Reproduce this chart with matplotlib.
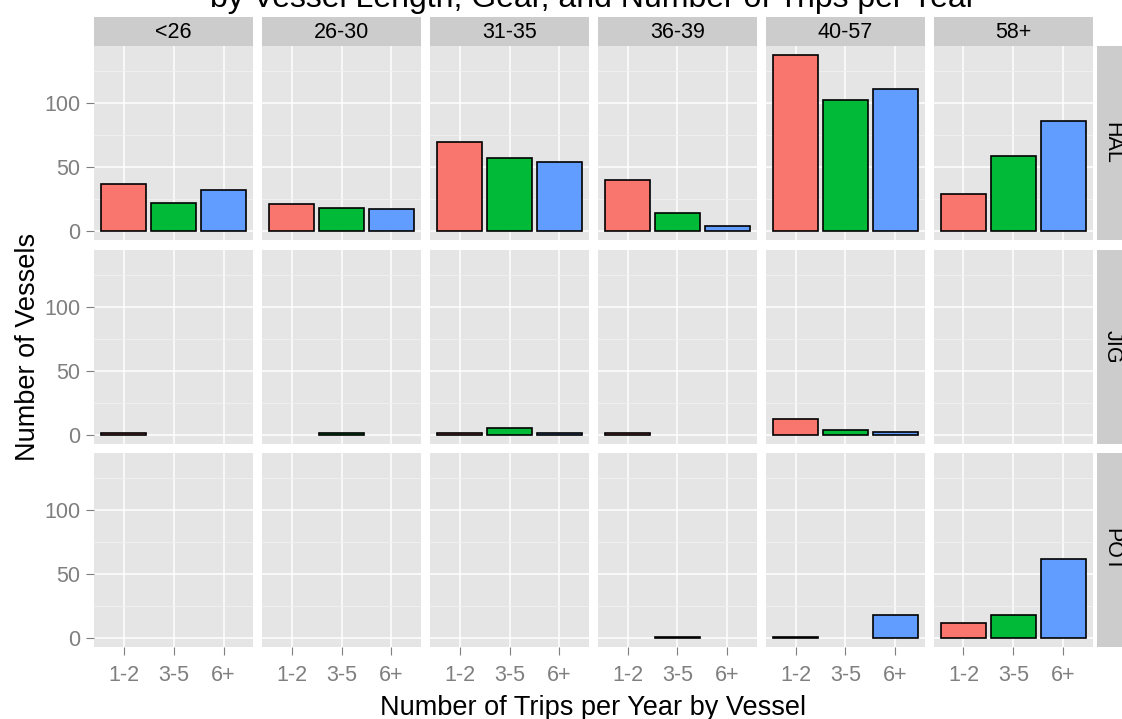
import numpy as np
import matplotlib
matplotlib.use("Agg")
import matplotlib.pyplot as plt

nan = np.nan
lengths = ['<26', '26-30', '31-35', '36-39', '40-57', '58+']
gears = ['HAL', 'JIG', 'POT']
trips = ['1-2', '3-5', '6+']

hal_12 = [37, 21, 70, 40, 138, 29]
hal_35 = [22, 18, 57, 14, 103, 59]
hal_6p = [32, 17, 54, 4, 111, 86]
jig_12 = [1, nan, 1, 1, 12, nan]
jig_35 = [nan, 1, 5, nan, 4, nan]
jig_6p = [nan, nan, 1, nan, 2, nan]
pot_12 = [nan, nan, nan, nan, 1, 12]
pot_35 = [nan, nan, nan, 1, nan, 18]
pot_6p = [nan, nan, nan, nan, 18, 62]

data = {
    'HAL': [hal_12, hal_35, hal_6p],
    'JIG': [jig_12, jig_35, jig_6p],
    'POT': [pot_12, pot_35, pot_6p],
}
colors = ['#F8766D', '#00BA38', '#619CFF']

title = 'by Vessel Length, Gear, and Number of Trips per Year'
xlabel = 'Number of Trips per Year by Vessel'
ylabel = 'Number of Vessels'

FONT = ['Liberation Sans', 'DejaVu Sans']
plt.rcParams['font.family'] = FONT

W, H = 1122, 719
fig = plt.figure(figsize=(W / 100, H / 100), dpi=100)
fig.patch.set_facecolor('white')

def px_axes(x0, y0, x1, y1):
    return fig.add_axes([x0 / W, 1 - y1 / H, (x1 - x0) / W, (y1 - y0) / H])

L, R = 94, 1093
T, B = 46, 647
gx, gy = 8.5, 9.5
pw = (R - L - 5 * gx) / 6
ph = (B - T - 2 * gy) / 3

all_vals = [v for g in gears for s in data[g] for v in s if not np.isnan(v)]
vmax = max(all_vals)
ylim = (-0.05 * vmax, vmax * 1.05)

tick_col = '#7F7F7F'
for r, g in enumerate(gears):
    for c, ln in enumerate(lengths):
        x0 = L + c * (pw + gx)
        y0 = T + r * (ph + gy)
        ax = px_axes(x0, y0, x0 + pw, y0 + ph)
        ax.set_facecolor('#E5E5E5')
        for sp in ax.spines.values():
            sp.set_visible(False)
        ax.set_xlim(0.4, 3.6)
        ax.set_ylim(*ylim)
        ax.set_xticks([1, 2, 3])
        ax.set_yticks([0, 50, 100])
        ax.set_yticks([25, 75, 125], minor=True)
        ax.grid(True, which='major', color='white', linewidth=1.1)
        ax.grid(True, which='minor', axis='y', color='#F2F2F2', linewidth=0.6)
        ax.set_axisbelow(True)
        for k in range(3):
            v = data[g][k][c]
            if not np.isnan(v):
                ax.bar(k + 1, v, width=0.9, color=colors[k], edgecolor='black',
                       linewidth=1.2, zorder=3)
        ax.tick_params(axis='both', which='major', color=tick_col, length=5.8,
                       width=0.8, labelcolor=tick_col, labelsize=15.5)
        ax.tick_params(axis='y', which='minor', length=0)
        ax.tick_params(axis='y', pad=4)
        ax.tick_params(axis='x', pad=7)
        if c == 0:
            ax.set_yticklabels(['0', '50', '100'])
        else:
            ax.tick_params(axis='y', left=False, labelleft=False)
        if r == 2:
            ax.set_xticklabels(trips)
        else:
            ax.tick_params(axis='x', bottom=False, labelbottom=False)
        # top strip
        if r == 0:
            sax = px_axes(x0, 17, x0 + pw, T)
            sax.set_facecolor('#CCCCCC')
            sax.set_xticks([]); sax.set_yticks([])
            for sp in sax.spines.values():
                sp.set_visible(False)
            sax.text(0.5, 0.45, ln, ha='center', va='center', fontsize=15.5,
                     color='black', transform=sax.transAxes)
        if c == 5:
            sax = px_axes(1097, y0, 1127, y0 + ph)
            sax.set_facecolor('#CCCCCC')
            sax.set_xticks([]); sax.set_yticks([])
            for sp in sax.spines.values():
                sp.set_visible(False)
            sax.text(0.5, 0.5, g, ha='center', va='center', fontsize=15.5,
                     rotation=-90, color='black', transform=sax.transAxes)

fig.text((L + R) / 2 / W, 1 - 7 / H, title, ha='center', va='baseline',
         fontsize=23, color='black')
fig.text((L + R) / 2 / W, 4 / H, xlabel, ha='center', va='baseline',
         fontsize=19.5, color='black')
fig.text(28 / W, 1 - (T + B) / 2 / H, ylabel, ha='center', va='center',
         rotation=90, fontsize=19.5, color='black')

fig.savefig('out.png', dpi=100, facecolor='white')
